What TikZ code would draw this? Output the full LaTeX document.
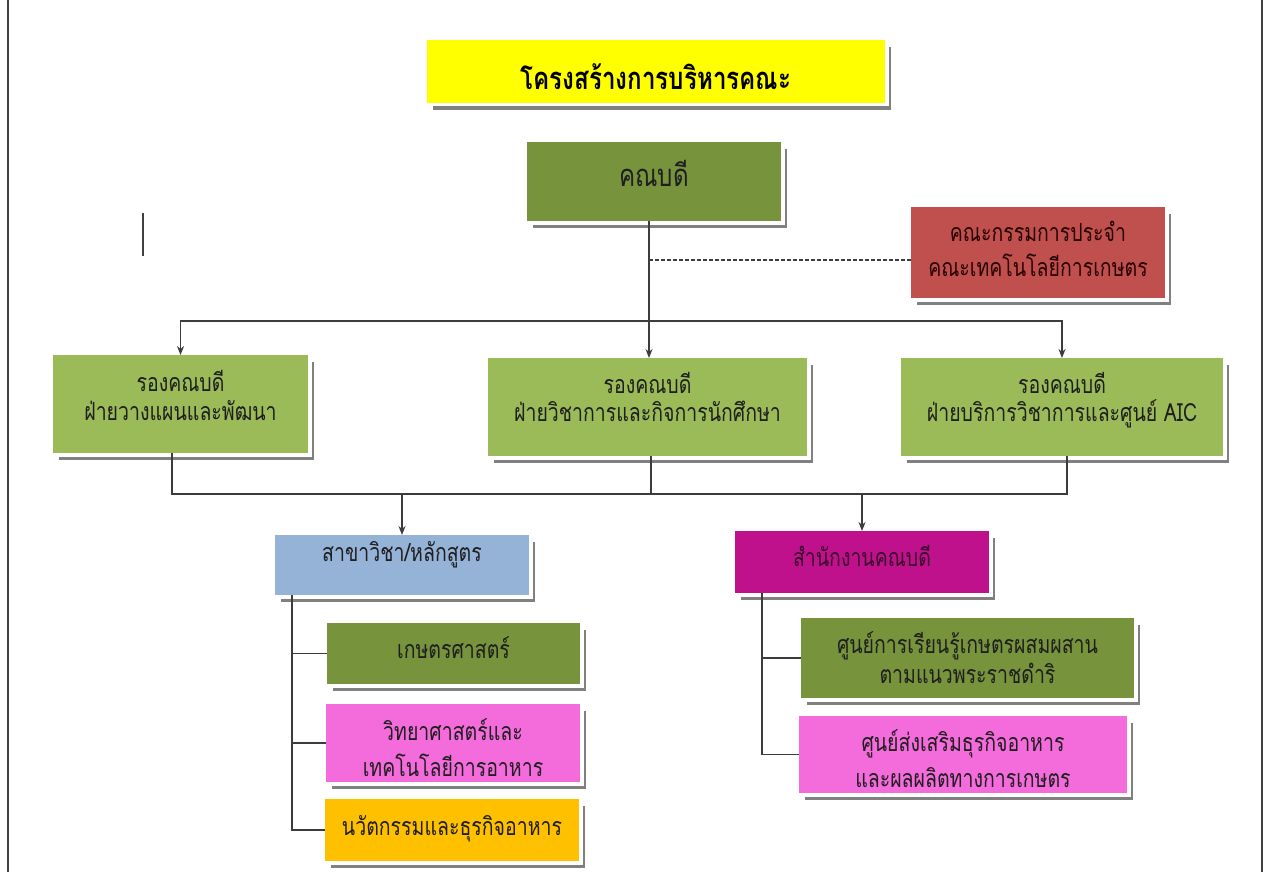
\documentclass[tikz,border=0pt]{standalone}
\usepackage{fontspec}
\newfontfamily\thai[Script=Thai,FakeStretch=0.78]{Loma}
\usetikzlibrary{arrows.meta}
\definecolor{cyellow}{HTML}{FFFF00}
\definecolor{colive}{HTML}{77933C}
\definecolor{clgreen}{HTML}{9BBB59}
\definecolor{cred}{HTML}{C0504D}
\definecolor{cblue}{HTML}{95B3D7}
\definecolor{cmag}{HTML}{C0118C}
\definecolor{cpink}{HTML}{F46BDC}
\definecolor{cgold}{HTML}{FFC000}
\definecolor{ctext}{HTML}{1E1E1E}
\definecolor{cline}{HTML}{3C3C3C}
\tikzset{
  orgbox/.style={rectangle, inner sep=0pt, outer sep=0pt, align=center,
    text=ctext, text depth=0pt,
    preaction={fill=black!50, transform canvas={xshift=5.5pt,yshift=-7pt}},
    preaction={draw=white, line width=7pt}},
  tsize/.style 2 args={font={\thai\fontsize{#1}{#2}\selectfont\lineskiplimit=-100pt}},
  conn/.style={draw=cline, line width=1.4pt},
  arr/.style={conn, -{Stealth[length=9pt,width=7pt]}},
  dsh/.style={draw=cline, line width=1.2pt, dash pattern=on 3.5pt off 2.5pt},
  frame/.style={draw=black!75, line width=1.2pt}
}
\begin{document}
\begin{tikzpicture}[x=1pt,y=-1pt]
\useasboundingbox (0,0) rectangle (1264,872);
\fill[white] (0,0) rectangle (1264,872);
% page frame and stray mark
\draw[frame] (8,0) -- (8,872);
\draw[frame] (1262,0) -- (1262,872);
\draw[frame] (143,213) -- (143,256);

% boxes
\node[orgbox, fill=cyellow, minimum width=458pt, minimum height=63pt,
  font={\thai\bfseries\fontsize{31}{32}\selectfont}, text=black, text height=35.6pt] (title) at (656,71.5) {โครงสร้างการบริหารคณะ};
\node[orgbox, fill=colive, minimum width=254pt, minimum height=79pt,
  tsize={31}{32}, text height=9.4pt] (dean) at (654,181.5) {คณบดี};
\node[orgbox, fill=cred, minimum width=254pt, minimum height=91pt, text=black!85!red,
  tsize={25}{35}, text height=48pt] (comm) at (1038,252.5) {คณะกรรมการประจำ\\คณะเทคโนโลยีการเกษตร};
\node[orgbox, fill=clgreen, minimum width=255pt, minimum height=98pt,
  tsize={25}{29}, text height=33.5pt] (vp1) at (180.5,404) {รองคณบดี\\ฝ่ายวางแผนและพัฒนา};
\node[orgbox, fill=clgreen, minimum width=319pt, minimum height=98pt,
  tsize={25}{28}, text height=29.5pt] (vp2) at (647.5,407) {รองคณบดี\\ฝ่ายวิชาการและกิจการนักศึกษา};
\node[orgbox, fill=clgreen, minimum width=322pt, minimum height=98pt,
  tsize={25}{28}, text height=29.5pt] (vp3) at (1062,407) {รองคณบดี\\ฝ่ายบริการวิชาการและศูนย์ AIC};
\node[orgbox, fill=cblue, minimum width=254pt, minimum height=60pt,
  tsize={25}{29}, text height=0pt, text depth=6.6pt] (branch) at (402,565) {สาขาวิชา/หลักสูตร};
\node[orgbox, fill=cmag, minimum width=254pt, minimum height=62pt, text=black!70!cmag,
  tsize={25}{29}, text height=9.5pt] (office) at (862,562) {สำนักงานคณบดี};
\node[orgbox, fill=colive, minimum width=253pt, minimum height=61pt,
  tsize={25}{29}, text height=10.5pt] (agri) at (453.5,653.5) {เกษตรศาสตร์};
\node[orgbox, fill=cpink, minimum width=254pt, minimum height=78pt,
  tsize={25}{36}, text height=67.5pt] (food) at (453,743) {วิทยาศาสตร์และ\\เทคโนโลยีการอาหาร};
\node[orgbox, fill=cgold, minimum width=254pt, minimum height=62pt,
  tsize={25}{29}, text height=11.5pt] (innov) at (452,830) {นวัตกรรมและธุรกิจอาหาร};
\node[orgbox, fill=colive, minimum width=333pt, minimum height=80pt,
  tsize={25}{30}, text height=51.5pt] (learn) at (967.5,658) {ศูนย์การเรียนรู้เกษตรผสมผสาน\\ตามแนวพระราชดำริ};
\node[orgbox, fill=cpink, minimum width=328pt, minimum height=77pt,
  tsize={25}{36}, text height=66.5pt] (promo) at (963,754.5) {ศูนย์ส่งเสริมธุรกิจอาหาร\\และผลผลิตทางการเกษตร};

% top connectors
\coordinate (j1) at (649,321);
\coordinate (d1) at (649,260);
\draw[conn] (dean.south -| j1) -- (j1);
\draw[arr] (j1) -| (vp1.north);
\draw[arr] (j1) -| (vp3.north);
\draw[arr] (j1) -- (j1 |- vp2.north);
\draw[dsh] (d1) -- (d1 -| comm.west);

% merge connectors
\coordinate (m1) at (172,494);
\coordinate (m2) at (651,494);
\coordinate (m3) at (1067,494);
\draw[conn] (m1 |- vp1.south) -- (m1) -- (m3) -- (m3 |- vp3.south);
\draw[conn] (m2 |- vp2.south) -- (m2);
\draw[arr] (branch.north |- m1) -- (branch.north);
\draw[arr] (office.north |- m1) -- (office.north);

% sub trees
\coordinate (t1) at (292,595);
\draw[conn] (t1) |- (innov.west);
\draw[conn] (t1 |- agri.west) -- (agri.west);
\draw[conn] (t1 |- food.west) -- (food.west);
\coordinate (t2) at (762,593);
\draw[conn] (t2) |- (promo.west);
\draw[conn] (t2 |- learn.west) -- (learn.west);
\end{tikzpicture}
\end{document}
